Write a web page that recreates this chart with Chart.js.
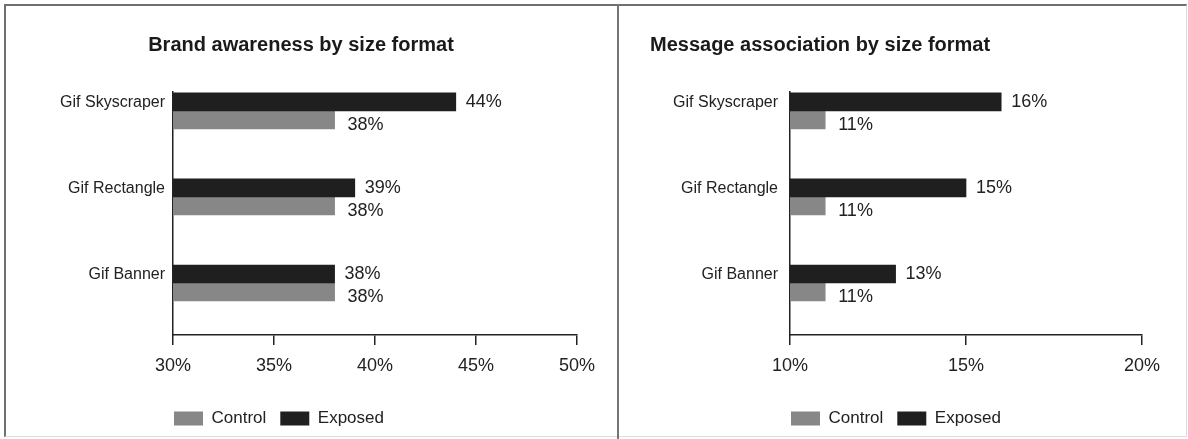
<!DOCTYPE html>
<html>
<head>
<meta charset="utf-8">
<title>Brand awareness and message association by size format</title>
<script src="https://cdn.jsdelivr.net/npm/chart.js@4.4.1/dist/chart.umd.min.js"></script>
<style>
  html, body { margin: 0; padding: 0; background: #fff; width: 1188px; height: 439px; overflow: hidden; }
  .frame { position: absolute; left: 4px; top: 4px; width: 1183px; height: 433px; box-sizing: border-box;
           border-top: 2px solid #707070; border-left: 2px solid #707070;
           border-right: 1px solid #dcdcdc; border-bottom: 1px solid #dcdcdc; }
  .divider { position: absolute; left: 617px; top: 5px; width: 2px; height: 434px; background: #757575; }
  canvas { position: absolute; }
  #brand { left: 7px; top: 7px; }
  #message { left: 621px; top: 7px; }
</style>
</head>
<body>
<div class="frame"></div>
<div class="divider"></div>
<canvas id="brand" width="610" height="431"></canvas>
<canvas id="message" width="565" height="431"></canvas>
<script>
// Size formats shown on the vertical axis (top to bottom)
const formats = ['Gif Skyscraper', 'Gif Rectangle', 'Gif Banner'];

// Brand awareness (%)
const brandExposed = [44, 39, 38];
const brandControl = [38, 38, 38];
const brandTicks = [30, 35, 40, 45, 50];

// Message association (%)
const messageExposed = [16, 15, 13];
const messageControl = [11, 11, 11];
const messageTicks = [10, 15, 20];

const FONT = '"Liberation Sans", Arial, Helvetica, sans-serif';
const INK = '#222222';
const EXPOSED_FILL = '#1f1f1f';
const CONTROL_FILL = '#878787';

// Writes the value at the end of each bar
const valueLabels = {
  id: 'valueLabels',
  afterDatasetsDraw(chart, args, opts) {
    const ctx = chart.ctx;
    ctx.save();
    ctx.font = opts.size + 'px ' + FONT;
    ctx.fillStyle = INK;
    ctx.textAlign = 'left';
    ctx.textBaseline = 'middle';
    chart.data.datasets.forEach((ds, di) => {
      const meta = chart.getDatasetMeta(di);
      meta.data.forEach((bar, i) => {
        ctx.fillText(ds.data[i].x + '%', bar.x + opts.gap[di], bar.y + opts.drop[di]);
      });
    });
    ctx.restore();
  }
};

// Lines the legend up with the start of the value axis
const legendStart = {
  id: 'legendStart',
  afterLayout(chart, args, opts) {
    const lg = chart.legend;
    if (!lg) return;
    lg.left += opts.shift;
    lg.right += opts.shift;
  }
};

function toPoints(values) {
  return values.map((v, i) => ({ x: v, y: i }));
}

function buildPanel(id, p) {
  return new Chart(document.getElementById(id), {
    type: 'bar',
    data: {
      datasets: [
        { label: 'Exposed', data: toPoints(p.exposed), backgroundColor: EXPOSED_FILL, barThickness: 18 },
        { label: 'Control', data: toPoints(p.control), backgroundColor: CONTROL_FILL, barThickness: 18 }
      ]
    },
    options: {
      indexAxis: 'y',
      responsive: false,
      animation: false,
      events: [],
      layout: { padding: { left: p.padLeft, right: p.padRight, top: 0, bottom: 1 } },
      scales: {
        y: {
          type: 'linear',
          reverse: true,
          offset: false,
          min: -0.22,
          max: 2.605,
          afterBuildTicks: s => { s.ticks = formats.map((_, i) => ({ value: i })); },
          afterFit: s => { s.width = p.yWidth; },
          ticks: {
            callback: v => formats[v],
            padding: p.catGap,
            labelOffset: -8,
            color: INK,
            font: { family: FONT, size: 16 }
          },
          grid: { display: false, drawTicks: false },
          border: { display: true, color: '#222', width: 1.5 }
        },
        x: {
          type: 'linear',
          beginAtZero: false,
          min: p.ticks[0],
          max: p.ticks[p.ticks.length - 1],
          afterBuildTicks: s => { s.ticks = p.ticks.map(v => ({ value: v })); },
          afterFit: s => { s.height = 61; },
          ticks: {
            callback: v => v + '%',
            padding: 10,
            color: INK,
            font: { family: FONT, size: 18 }
          },
          grid: { drawOnChartArea: false, drawTicks: true, tickLength: 10, tickColor: '#222', lineWidth: 1.5 },
          border: { display: true, color: '#222', width: 1.5 }
        }
      },
      plugins: {
        title: {
          display: true,
          text: p.title,
          align: p.titleAlign,
          color: '#1a1a1a',
          font: { family: FONT, size: 20, weight: 'bold' },
          padding: { top: 26, bottom: 35 }
        },
        legend: {
          display: true,
          position: 'bottom',
          align: 'start',
          fullSize: false,
          reverse: true,
          labels: {
            boxWidth: 29,
            boxHeight: 14,
            padding: 14,
            color: INK,
            font: { family: FONT, size: 17 }
          }
        },
        tooltip: { enabled: false },
        valueLabels: { size: 18, gap: [10, 13], drop: [0, 5] },
        legendStart: { shift: -13 }
      }
    },
    plugins: [valueLabels, legendStart]
  });
}

buildPanel('brand', {
  title: 'Brand awareness by size format',
  titleAlign: 'center',
  exposed: brandExposed,
  control: brandControl,
  ticks: brandTicks,
  padLeft: 18,
  padRight: 40,
  yWidth: 148,
  catGap: 8
});

buildPanel('message', {
  title: 'Message association by size format',
  titleAlign: 'start',
  exposed: messageExposed,
  control: messageControl,
  ticks: messageTicks,
  padLeft: 29,
  padRight: 44,
  yWidth: 140,
  catGap: 12
});
</script>
</body>
</html>
